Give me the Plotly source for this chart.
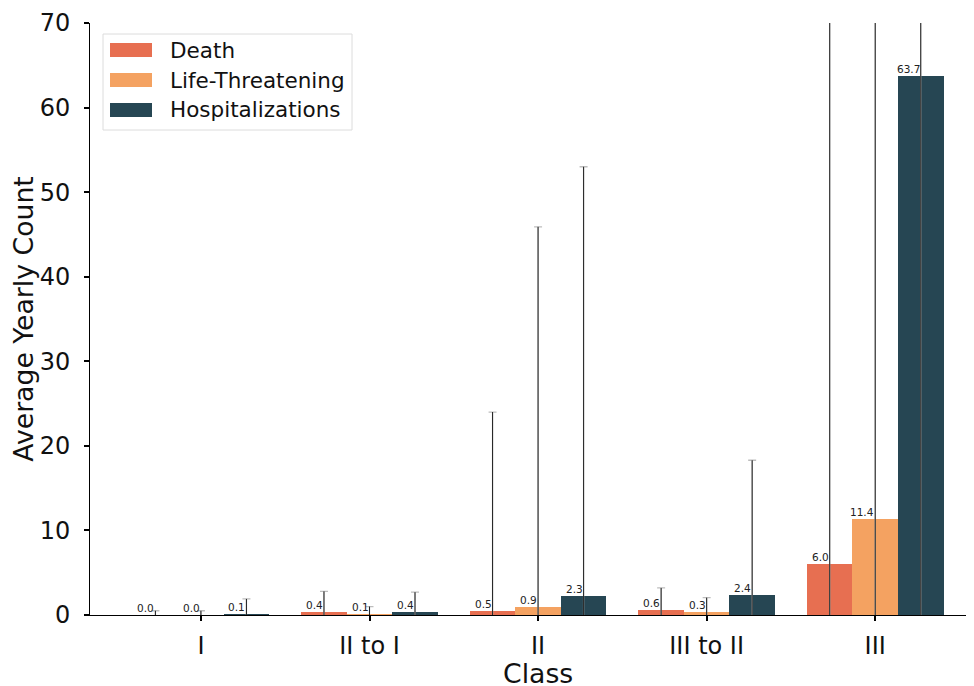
import plotly.graph_objects as go

categories = ["I", "II to I", "II", "III to II", "III"]
series_names = ["Death", "Life-Threatening", "Hospitalizations"]
death = [0.0, 0.4, 0.5, 0.6, 6.0]
life = [0.0, 0.1, 0.9, 0.3, 11.4]
hosp = [0.1, 0.4, 2.3, 2.4, 63.7]
death_err = [0.5, 2.4, 23.5, 2.6, 80.0]
life_err = [0.5, 0.9, 45.0, 1.75, 95.0]
hosp_err = [1.8, 2.3, 50.7, 15.9, 130.0]
colors = ["#E76F51", "#F4A261", "#264653"]
y_ticks = [0, 10, 20, 30, 40, 50, 60, 70]

values = [death, life, hosp]
errors = [death_err, life_err, hosp_err]
bar_w = 0.27
offsets = [-bar_w, 0.0, bar_w]
font = "DejaVu Sans"

W, H = 966, 678
ML, MR, MT, MB = 82, 1, 15, 71
PW, PH = W - ML - MR, H - MT - MB


def px(x):
    return (x - ML) / PW


def py(y):
    return (H - MB - y) / PH


fig = go.Figure()
idx = list(range(len(categories)))
for name, vals, col, off in zip(series_names, values, colors, offsets):
    fig.add_trace(go.Bar(
        x=[i + off for i in idx], y=vals, width=bar_w, name=name,
        marker=dict(color=col, line=dict(width=0)),
        hoverinfo="skip", showlegend=False,
    ))

for vals, errs, off in zip(values, errors, offsets):
    xs = [i + off for i in idx]
    fig.add_trace(go.Scatter(
        x=xs, y=vals, mode="markers", marker=dict(size=1, opacity=0),
        showlegend=False, hoverinfo="skip",
        error_y=dict(type="data", array=errs, symmetric=True,
                     color="#bdbdbd", thickness=1.3, width=4),
    ))
    fig.add_trace(go.Scatter(
        x=xs, y=vals, mode="markers", marker=dict(size=1, opacity=0),
        showlegend=False, hoverinfo="skip",
        error_y=dict(type="data", array=errs, symmetric=True,
                     color="#222222", thickness=1, width=0),
    ))

annotations = []
for vals, off in zip(values, offsets):
    for i, v in zip(idx, vals):
        annotations.append(dict(
            x=i + off, y=v, xref="x", yref="y", text=f"{v:.1f}",
            showarrow=False, xanchor="right", yanchor="bottom",
            xshift=1, yshift=-1, font=dict(family=font, size=10.5, color="#222222"),
        ))

# legend drawn as box + patches + labels
shapes = [dict(type="rect", xref="paper", yref="paper",
               x0=px(95), x1=px(344), y0=py(122), y1=py(26),
               line=dict(color="#dcdcdc", width=1), fillcolor="rgba(255,255,255,0.8)",
               layer="above")]
for k, (name, col) in enumerate(zip(series_names, colors)):
    yc = 42 + 30 * k
    shapes.append(dict(type="rect", xref="paper", yref="paper",
                       x0=px(102), x1=px(144), y0=py(yc + 7), y1=py(yc - 7),
                       line=dict(width=0), fillcolor=col, layer="above"))
    annotations.append(dict(x=px(160), y=py(yc), xref="paper", yref="paper",
                            text=name, showarrow=False, xanchor="left", yanchor="middle",
                            font=dict(family=font, size=21.5, color="#111111")))

# x-axis title
annotations.append(dict(x=px(530), y=py(666), xref="paper", yref="paper",
                        text="Class", showarrow=False, xanchor="center", yanchor="middle",
                        font=dict(family=font, size=26.7, color="#111111")))

fig.update_layout(
    width=W, height=H,
    margin=dict(l=ML, r=MR, t=MT, b=MB, autoexpand=False),
    paper_bgcolor="white", plot_bgcolor="white",
    font=dict(family=font, color="#111111"),
    bargap=0, barmode="overlay",
    annotations=annotations, shapes=shapes,
    showlegend=False,
    xaxis=dict(
        range=[-0.658, 4.58], tickmode="array", tickvals=idx, ticktext=categories,
        showline=True, linecolor="black", linewidth=1,
        ticks="outside", ticklen=5, tickwidth=1.5, tickcolor="black",
        ticklabelstandoff=4, automargin=False,
        showgrid=False, zeroline=False,
        tickfont=dict(family=font, size=24, color="#111111"),
    ),
    yaxis=dict(
        range=[0, 70], tickmode="array", tickvals=y_ticks,
        showline=True, linecolor="black", linewidth=1,
        ticks="outside", ticklen=5, tickwidth=1.5, tickcolor="black",
        ticklabelstandoff=9, automargin=False,
        showgrid=False, zeroline=False,
        tickfont=dict(family=font, size=24, color="#111111"),
        title=dict(text="Average Yearly Count", font=dict(family=font, size=26.7, color="#111111"), standoff=4),
    ),
)

fig.write_html("out.html")
